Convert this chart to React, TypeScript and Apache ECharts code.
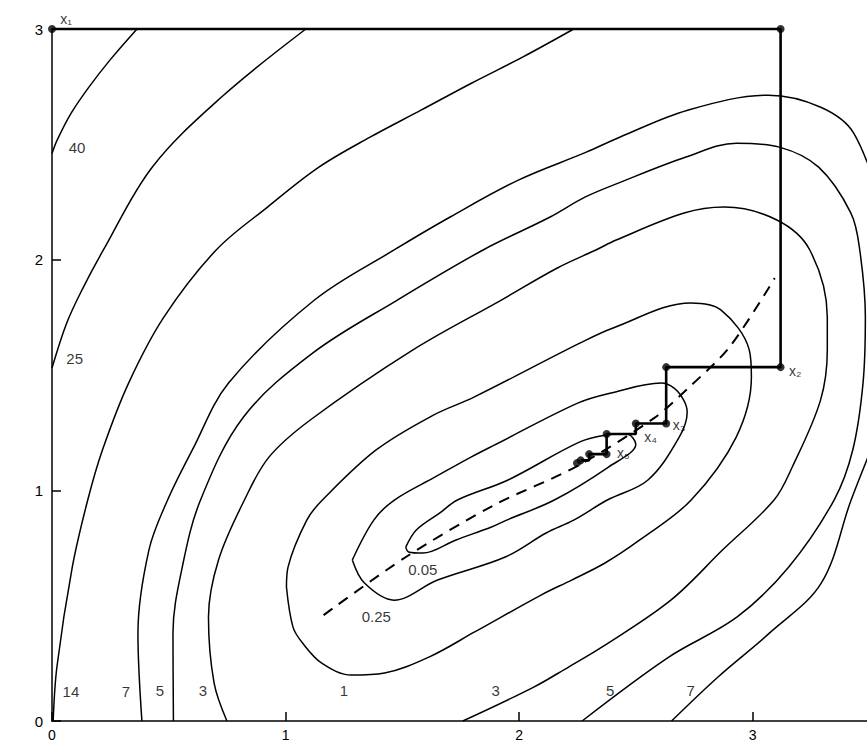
import React, { useEffect, useRef } from "react";
import * as echarts from "echarts";

// ---- axis ticks ----
const xTickValues = [0, 1, 2, 3];
const yTickValues = [0, 1, 2, 3];

// ---- contour lines (in x1 / x2 units) ----
const contour40 = [[0.364, 3.0], [0.248, 2.865], [0.158, 2.748], [0.082, 2.635], [0.022, 2.518], [0, 2.46]];
const contour25 = [[1.087, 3.0], [0.726, 2.705], [0.429, 2.401], [0.22, 2.042], [0.128, 1.868], [0.063, 1.725], [0, 1.53]];
const contour14 = [
  [2.234, 3.0], [2.015, 2.878], [1.798, 2.766], [1.58, 2.648], [1.362, 2.531], [1.143, 2.401], [0.923, 2.228],
  [0.703, 2.042], [0.479, 1.751], [0.328, 1.465], [0.216, 1.175], [0.153, 0.958], [0.087, 0.668], [0.021, 0.234], [0.005, 0],
];
const contour7Upper = [
  [0.385, 0], [0.368, 0.381], [0.415, 0.741], [0.495, 0.958], [0.601, 1.175], [0.756, 1.465], [1.124, 1.825],
  [1.465, 2.042], [1.705, 2.185], [1.997, 2.345], [2.288, 2.466], [2.431, 2.531], [2.722, 2.648], [3.067, 2.713],
  [3.292, 2.661], [3.433, 2.549], [3.563, 2.202],
];
const contour7Lower = [[3.529, 1.231], [3.422, 0.958], [3.294, 0.598], [3.072, 0.381], [2.852, 0.191], [2.653, 0]];
const contour5 = [
  [0.52, 0], [0.518, 0.381], [0.558, 0.668], [0.636, 0.958], [0.82, 1.318], [1.116, 1.595], [1.479, 1.825],
  [1.846, 2.042], [2.133, 2.185], [2.282, 2.271], [2.425, 2.332], [2.715, 2.445], [2.931, 2.505], [3.115, 2.488],
  [3.283, 2.401], [3.421, 2.202], [3.459, 2.042], [3.483, 1.751], [3.473, 1.465], [3.429, 1.175], [3.349, 0.958],
  [3.155, 0.668], [2.934, 0.451], [2.641, 0.277], [2.27, 0],
];
const contour3 = [
  [0.749, 0], [0.694, 0.165], [0.67, 0.451], [0.713, 0.698], [0.824, 0.958], [0.929, 1.144], [1.106, 1.305],
  [1.544, 1.608], [1.924, 1.825], [2.164, 1.964], [2.329, 2.042], [2.416, 2.085], [2.707, 2.202], [2.879, 2.228],
  [3.104, 2.172], [3.245, 2.042], [3.32, 1.751], [3.32, 1.608], [3.291, 1.391], [3.17, 1.101], [3.092, 0.958],
  [2.871, 0.741], [2.65, 0.524], [2.356, 0.321], [2.212, 0.234], [2.063, 0.147], [1.759, 0],
];
const contour1 = [
  [1.004, 0.581], [1.011, 0.668], [1.091, 0.871], [1.158, 0.958], [1.388, 1.175], [1.633, 1.326], [1.807, 1.404],
  [2.26, 1.638], [2.403, 1.704], [2.736, 1.812], [2.864, 1.782], [2.986, 1.608], [2.995, 1.491], [2.93, 1.231],
  [2.737, 0.958], [2.517, 0.785], [2.368, 0.685], [2.225, 0.611], [2.094, 0.546], [1.81, 0.386], [1.614, 0.277],
  [1.424, 0.208], [1.282, 0.199], [1.155, 0.251], [1.073, 0.338], [1.032, 0.407], [1.004, 0.581],
];
const contour025 = [
  [1.286, 0.698], [1.378, 0.871], [1.466, 0.958], [1.641, 1.058], [1.794, 1.144], [1.894, 1.196], [2.251, 1.378],
  [2.394, 1.422], [2.609, 1.465], [2.664, 1.443], [2.705, 1.391], [2.72, 1.339], [2.686, 1.231], [2.552, 1.045],
  [2.378, 0.958], [2.234, 0.871], [2.116, 0.815], [1.941, 0.711], [1.651, 0.611], [1.464, 0.524], [1.338, 0.598],
  [1.286, 0.698],
];
const contour005 = [
  [1.515, 0.754], [1.56, 0.828], [1.661, 0.902], [1.736, 0.958], [1.953, 1.045], [2.258, 1.209], [2.374, 1.24],
  [2.46, 1.245], [2.5, 1.2], [2.383, 1.101], [2.151, 0.958], [1.947, 0.871], [1.882, 0.841], [1.73, 0.785],
  [1.587, 0.728], [1.527, 0.733], [1.515, 0.754],
];

// ---- dashed curve ----
const dashedCurve = [
  [1.163, 0.459], [1.514, 0.71], [1.893, 0.936], [2.241, 1.101], [2.578, 1.313], [2.724, 1.443], [2.901, 1.621], [3.095, 1.92],
];

// ---- search path (cyclic coordinate steps) ----
const searchPath = [
  [0, 3], [3.12, 3], [3.12, 1.534], [2.63, 1.534], [2.63, 1.29], [2.5, 1.29], [2.5, 1.244], [2.375, 1.244],
  [2.375, 1.157], [2.3, 1.157], [2.3, 1.13], [2.264, 1.13],
];
const pathDots = [
  [0, 3], [3.12, 3], [3.12, 1.534], [2.63, 1.534], [2.63, 1.29], [2.5, 1.29], [2.375, 1.244], [2.375, 1.157],
  [2.3, 1.157], [2.264, 1.13], [2.248, 1.118],
];
const iterateNames = ["x₁", "x₂", "x₃", "x₄", "x₅"];
const iteratePoints = [[0, 3], [3.12, 1.534], [2.63, 1.29], [2.5, 1.244], [2.375, 1.157]];

// ---- contour level labels ----
const contourLabelTexts = ["40", "25", "14", "7", "5", "3", "1", "3", "5", "7", "0.05", "0.25"];
const contourLabelPoints = [
  [0.107, 2.488], [0.097, 1.573], [0.081, 0.126], [0.317, 0.126], [0.462, 0.134], [0.646, 0.134],
  [1.25, 0.134], [1.9, 0.134], [2.39, 0.134], [2.735, 0.134], [1.588, 0.655], [1.389, 0.451],
];

const FONT = "'Liberation Sans', Arial, sans-serif";
const INK = "#000";

function buildOption() {
  const contours = [contour40, contour25, contour14, contour7Upper, contour7Lower, contour5, contour3, contour1, contour025, contour005];
  const series: any[] = contours.map((c) => ({
    type: "line",
    data: c,
    smooth: 0.35,
    symbol: "none",
    silent: true,
    clip: true,
    z: 2,
    lineStyle: { color: INK, width: 1.5 },
  }));

  series.push({
    type: "line",
    data: dashedCurve,
    smooth: 0.3,
    symbol: "none",
    silent: true,
    z: 3,
    lineStyle: { color: INK, width: 2, type: [11, 8] },
  });

  series.push({
    type: "line",
    data: searchPath,
    symbol: "none",
    silent: true,
    clip: false,
    z: 4,
    lineStyle: { color: INK, width: 2.6 },
  });

  series.push({
    type: "scatter",
    data: pathDots,
    symbolSize: 8,
    silent: true,
    clip: false,
    z: 5,
    itemStyle: { color: INK },
  });

  const iterLabelStyles: any[] = [
    { position: "top", offset: [14, 2] },
    { position: "right", distance: 8, offset: [0, 4] },
    { position: "right", distance: 6, offset: [0, 2] },
    { position: "right", distance: 8, offset: [0, 3] },
    { position: "right", distance: 10, offset: [0, -1] },
  ];
  series.push({
    type: "scatter",
    data: iteratePoints.map((p, i) => ({ value: p, name: iterateNames[i], label: iterLabelStyles[i] })),
    symbolSize: 1,
    silent: true,
    clip: false,
    z: 6,
    itemStyle: { color: "rgba(0,0,0,0)" },
    label: { show: true, formatter: "{b}", color: INK, fontSize: 14, fontFamily: FONT },
  });

  series.push({
    type: "scatter",
    data: contourLabelPoints.map((p, i) => ({ value: p, name: contourLabelTexts[i] })),
    symbolSize: 1,
    silent: true,
    clip: false,
    z: 6,
    itemStyle: { color: "rgba(0,0,0,0)" },
    label: { show: true, position: "inside", formatter: "{b}", color: INK, fontSize: 15, fontFamily: FONT },
  });

  return {
    animation: false,
    backgroundColor: "#ffffff",
    grid: { left: 52, right: 0, top: 29, bottom: 21, containLabel: false },
    xAxis: {
      type: "value",
      min: 0,
      max: 3.49,
      interval: 1,
      splitLine: { show: false },
      axisLine: { show: true, onZero: false, lineStyle: { color: INK, width: 1.5 } },
      axisTick: { show: true, inside: true, length: 9, customValues: xTickValues, lineStyle: { color: INK, width: 1.5 } },
      axisLabel: {
        show: true,
        customValues: xTickValues,
        margin: 7,
        color: INK,
        fontSize: 14,
        fontFamily: FONT,
        formatter: (v: number) => String(v),
      },
    },
    yAxis: {
      type: "value",
      min: 0,
      max: 3,
      interval: 1,
      splitLine: { show: false },
      axisLine: { show: true, onZero: false, lineStyle: { color: INK, width: 1.5 } },
      axisTick: { show: true, inside: true, length: 9, customValues: yTickValues, lineStyle: { color: INK, width: 1.5 } },
      axisLabel: {
        show: true,
        customValues: yTickValues,
        margin: 9,
        color: INK,
        fontSize: 15,
        fontFamily: FONT,
        formatter: (v: number) => String(v),
      },
    },
    series,
  };
}

export default function App() {
  const ref = useRef<HTMLDivElement | null>(null);
  useEffect(() => {
    if (!ref.current) return;
    const chart = echarts.init(ref.current, undefined, { renderer: "svg" });
    chart.setOption(buildOption() as any);
    return () => chart.dispose();
  }, []);
  return (
    <div
      ref={ref}
      style={{ position: "fixed", left: 0, top: 0, width: 867, height: 742, background: "#fff" }}
    />
  );
}
